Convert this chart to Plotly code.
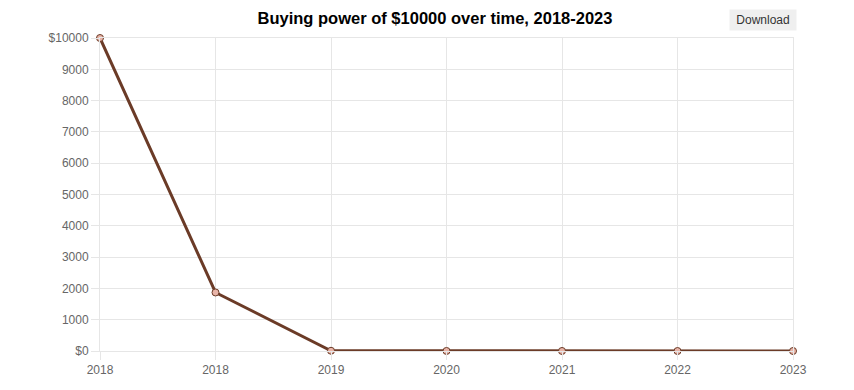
import plotly.graph_objects as go

categories = ["2018", "2018", "2019", "2020", "2021", "2022", "2023"]
values = [10000, 1870, 8, 2, 0.5, 0.1, 0.02]
y_ticks = [0, 1000, 2000, 3000, 4000, 5000, 6000, 7000, 8000, 9000, 10000]
y_tick_labels = ["$0", "1000", "2000", "3000", "4000", "5000", "6000", "7000", "8000", "9000", "$10000"]

x_pos = list(range(len(categories)))

fig = go.Figure()
fig.add_trace(go.Scatter(
    x=x_pos, y=values, mode="lines+markers",
    line=dict(color="#6b3b27", width=3),
    marker=dict(size=7, color="#e8b4a8", line=dict(color="#6b3b27", width=1)),
    cliponaxis=False, hoverinfo="y",
))

grid = "#e6e6e6"
fig.update_layout(
    width=854, height=390,
    margin=dict(l=92, r=69, t=30, b=47),
    paper_bgcolor="white", plot_bgcolor="white",
    showlegend=False,
    title=dict(text="<b>Buying power of $10000 over time, 2018-2023</b>",
               x=0.5, xanchor="center", y=0.974, yanchor="middle",
               font=dict(family="Liberation Sans, Arial, sans-serif", size=16.5, color="#000")),
    font=dict(family="Liberation Sans, Arial, sans-serif", size=12, color="#666"),
    xaxis=dict(range=[0, 6], tickvals=x_pos, ticktext=categories,
               showgrid=True, gridcolor=grid, zeroline=False,
               showline=True, linecolor=grid, mirror=True,
               ticks="outside", ticklen=8, tickcolor=grid, fixedrange=True),
    yaxis=dict(range=[0, 10000], tickvals=y_ticks, ticktext=y_tick_labels,
               showgrid=True, gridcolor=grid, zeroline=False,
               showline=True, linecolor=grid, mirror=True,
               ticks="outside", ticklen=8, tickcolor=grid, fixedrange=True),
    annotations=[dict(text="Download", xref="paper", yref="paper",
                      x=1.0058, y=1.0927, xanchor="right", yanchor="top",
                      width=60, height=14,
                      showarrow=False, bgcolor="#efefef", borderpad=3,
                      font=dict(size=12, color="#333"))],
)

fig.write_html("out.html")
